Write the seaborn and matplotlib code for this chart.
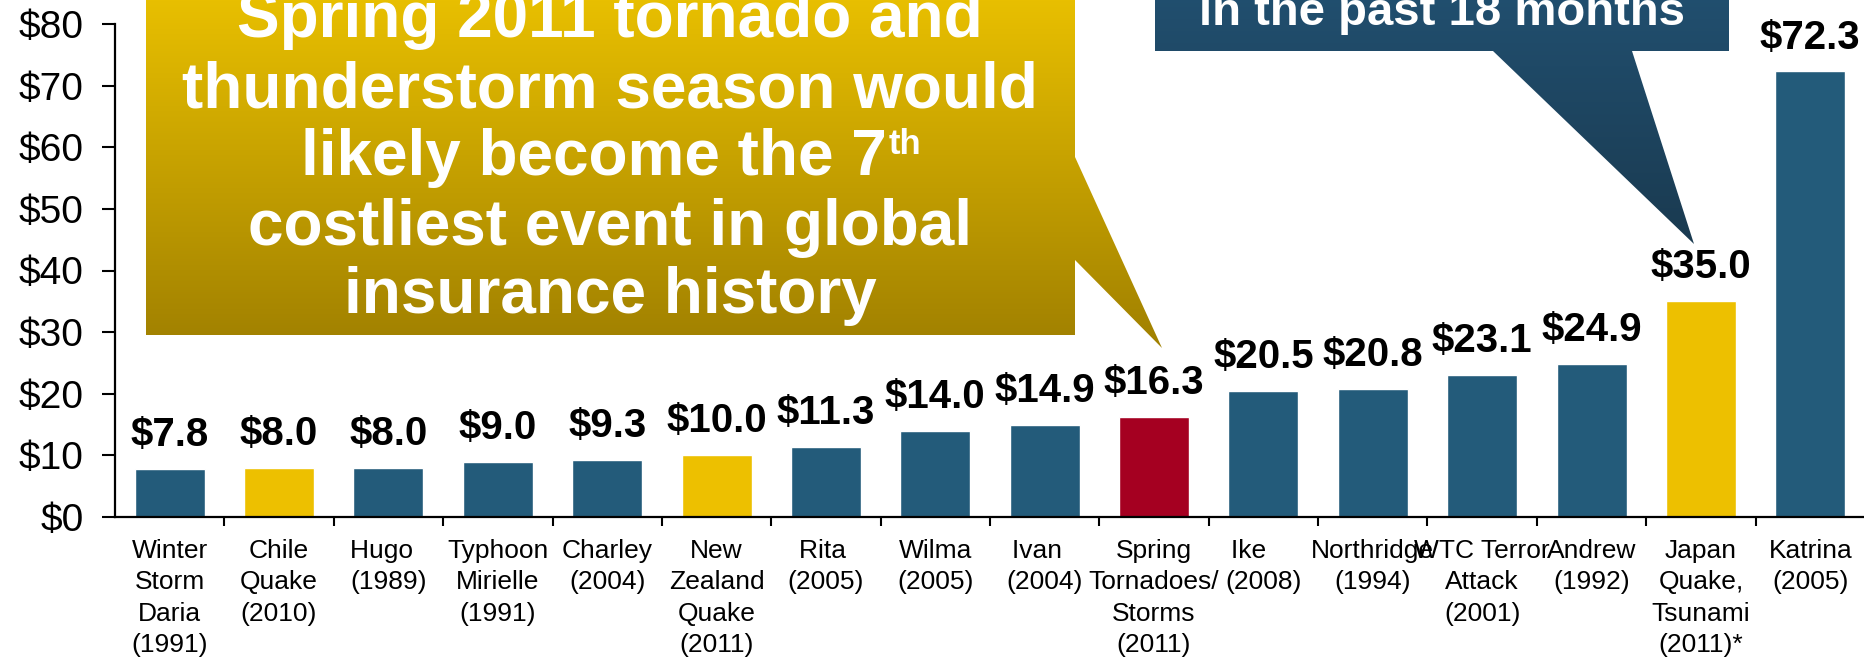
import matplotlib
matplotlib.use("Agg")
import matplotlib.pyplot as plt
import seaborn as sns
import numpy as np
import pandas as pd
from matplotlib.patches import Polygon
from matplotlib.colors import LinearSegmentedColormap
from matplotlib.ticker import FuncFormatter, FixedLocator

# ---------------- data ----------------
events = [
    "Winter\nStorm\nDaria\n(1991)",
    "Chile\nQuake\n(2010)",
    "Hugo  \n(1989)",
    "Typhoon\nMirielle\n(1991)",
    "Charley\n(2004)",
    "New\nZealand\nQuake\n(2011)",
    "Rita \n(2005)",
    "Wilma\n(2005)",
    "Ivan  \n(2004)",
    "Spring\nTornadoes/\nStorms\n(2011)",
    "Ike    \n(2008)",
    "Northridge\n(1994)",
    "WTC Terror\nAttack\n(2001)",
    "Andrew\n(1992)",
    "Japan\nQuake,\nTsunami\n(2011)*",
    "Katrina\n(2005)",
]
losses = [7.8, 8.0, 8.0, 9.0, 9.3, 10.0, 11.3, 14.0, 14.9, 16.3,
          20.5, 20.8, 23.1, 24.9, 35.0, 72.3]
kinds = ["other", "recent", "other", "other", "other", "recent", "other",
         "other", "other", "spring", "other", "other", "other", "other",
         "recent", "other"]
y_ticks = [0, 10, 20, 30, 40, 50, 60, 70, 80]

callout_lines = ["Spring 2011 tornado and", "thunderstorm season would",
                 "likely become the 7", "costliest event in global",
                 "insurance history"]
callout_sup = "th"
blue_text = "in the past 18 months"

palette = {"other": "#235B7A", "recent": "#EDC000", "spring": "#A50021"}

# ---------------- figure ----------------
sns.set_theme(style="white")
plt.rcParams['font.family'] = ['Liberation Sans', 'DejaVu Sans']
plt.rcParams['text.color'] = 'black'

W, H = 1864, 671
fig = plt.figure(figsize=(W / 100, H / 100), dpi=100)
ax = fig.add_axes([115 / W, 1 - 517 / H, 1750 / W, (517 - 24) / H])

df = pd.DataFrame({"event": events, "loss": losses, "kind": kinds})
sns.barplot(data=df, x="event", y="loss", hue="kind", palette=palette,
            dodge=False, width=0.64, saturation=1, legend=False, ax=ax,
            order=events)

ax.set_xlim(-0.5, len(events) - 0.5)
ax.set_ylim(y_ticks[0], y_ticks[-1])
ax.set_xlabel("")
ax.set_ylabel("")

# spines
for s in ["top", "right"]:
    ax.spines[s].set_visible(False)
for s in ["left", "bottom"]:
    ax.spines[s].set_color("black")
    ax.spines[s].set_linewidth(1.6)

# y axis
ax.set_yticks(y_ticks)
ax.yaxis.set_major_formatter(FuncFormatter(lambda v, p: f"${v:.0f}"))
ax.tick_params(axis="y", left=True, length=9.5, width=1.5, direction="out",
               pad=13, labelsize=28, labelcolor="black", color="black")

# x axis
ax.tick_params(axis="x", which="major", bottom=True, length=0, pad=16,
               labelsize=19, labelcolor="black")
ax.xaxis.set_minor_locator(FixedLocator(np.arange(0.5, len(events) - 0.5, 1)))
ax.tick_params(axis="x", which="minor", bottom=True, length=6.5, width=1.5,
               direction="out", color="black")
for lbl in ax.get_xticklabels():
    lbl.set_linespacing(1.38)

# value labels
for i, v in enumerate(losses):
    ax.annotate(f"${v:.1f}", xy=(i, v), xytext=(0, 16.5),
                textcoords="offset points", ha="center", va="baseline",
                fontsize=29, fontweight="bold", color="black")

# ---------------- callouts (overlay in pixel coordinates) ----------------
ov = fig.add_axes([0, 0, 1, 1], zorder=10)
ov.patch.set_alpha(0)
ov.axis("off")


def gradient_shape(verts, c_top, c_bot):
    poly = Polygon(verts, closed=True, facecolor="none", edgecolor="none")
    ov.add_patch(poly)
    xs = [p[0] for p in verts]
    ys = [p[1] for p in verts]
    cmap = LinearSegmentedColormap.from_list("g", [c_top, c_bot])
    grad = np.linspace(0, 1, 256).reshape(-1, 1)
    im = ov.imshow(grad, cmap=cmap, extent=(min(xs), max(xs), max(ys), min(ys)),
                   origin="upper", aspect="auto", interpolation="bilinear")
    im.set_clip_path(poly)


yellow_shape = [(146, -5), (1075, -5), (1075, 157), (1162, 348), (1075, 260),
                (1075, 335), (146, 335)]
gradient_shape(yellow_shape, "#E9C000", "#A08000")

blue_shape = [(1155, -5), (1729, -5), (1729, 51), (1632, 51), (1694, 244),
              (1493, 51), (1155, 51)]
gradient_shape(blue_shape, "#214F6F", "#1A3A50")

ov.set_xlim(0, W)
ov.set_ylim(H, 0)

# yellow callout text
cx = 610
baselines = [37, 107, 175, 245, 313]
txt_kw = dict(fontsize=46, fontweight="bold", color="white", va="baseline")
for k, line in enumerate(callout_lines):
    if k == 2:
        continue
    ov.text(cx, baselines[k], line, ha="center", **txt_kw)

renderer = fig.canvas.get_renderer()
t3 = ov.text(0, baselines[2], callout_lines[2], ha="left", **txt_kw)
tth = ov.text(0, baselines[2] - 21, callout_sup, ha="left", fontsize=25,
              fontweight="bold", color="white", va="baseline")
w3 = t3.get_window_extent(renderer).width
wth = tth.get_window_extent(renderer).width
x0 = cx - (w3 + wth) / 2
t3.set_x(x0)
tth.set_x(x0 + w3 + 2)

# blue callout text
ov.text(1442, 25, blue_text, ha="center", va="baseline", fontsize=34,
        fontweight="bold", color="white")

fig.savefig("out.png", dpi=100)
